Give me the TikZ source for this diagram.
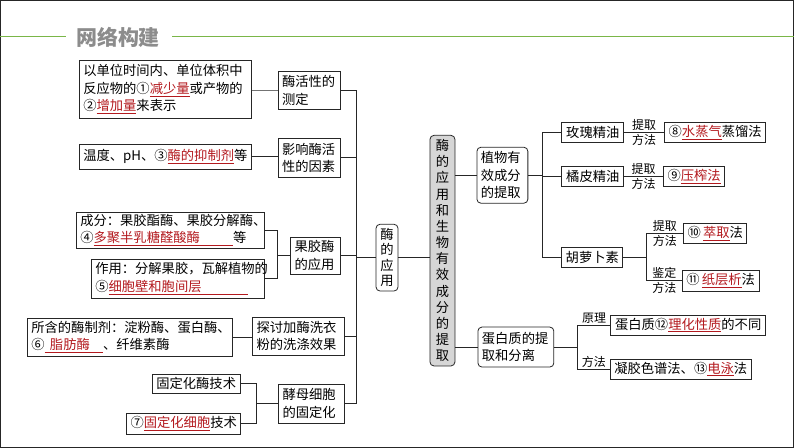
\documentclass[tikz,border=0pt]{standalone}
\usepackage{fontspec}
\setmainfont{Noto Sans CJK SC}
\usepackage{xcolor}
\usepackage{tikz}
\usetikzlibrary{positioning}
\definecolor{ansred}{HTML}{B3191E}
\definecolor{hdgreen}{HTML}{7AB648}
\definecolor{hdgray}{HTML}{8C8C8C}
\definecolor{mainfill}{HTML}{D6D6D6}
\newcommand{\ans}[1]{\textcolor{ansred}{\underline{#1}}}

\begin{document}
\begin{tikzpicture}[
  x=1pt, y=-1pt,
  font=\fontsize{13.3}{17.5}\selectfont,
  tbox/.style={draw, line width=0.8pt, inner xsep=4pt, inner ysep=2pt, align=left},
  rbox/.style={tbox, rounded corners=4pt},
  vbox/.style={rbox, align=center, inner xsep=3pt, inner ysep=4pt},
  lbl/.style={font=\fontsize{12}{14}\selectfont, inner sep=1.5pt},
  every path/.style={line width=0.8pt, draw=black!85}
]
\useasboundingbox (0,0) rectangle (794,447);
% header
\draw[hdgreen, line width=1.6pt] (0,36) -- (66,36);
\node[text=hdgray, font=\fontsize{21}{23}\selectfont\bfseries, anchor=west] (title) at (72,37) {网络构建};
\draw[hdgreen, line width=1pt] (172,36) -- (794,36);

% left side
\node[tbox, text width=164pt, minimum height=58pt] (meas) at (165,89)
  {以单位时间内、单位体积中\\反应物的①\ans{减少量}或产物的\\②\ans{增加量}来表示};
\node[tbox, text width=54pt, minimum height=38pt] (act) at (309,90) {酶活性的\\测定};
\node[tbox, text width=164pt, minimum height=25pt] (temp) at (165,156.5) {温度、pH、③\ans{酶的抑制剂}等};
\node[tbox, text width=54pt, minimum height=39pt] (infl) at (309,157.5) {影响酶活\\性的因素};
\node[tbox, text width=180pt, minimum height=36pt] (comp) at (170,230)
  {成分：果胶酯酶、果胶分解酶、\\④\ans{多聚半乳糖醛酸酶\hspace{2.5em}}等};
\node[tbox, text width=165pt, minimum height=39pt] (use) at (177.5,278.5)
  {作用：分解果胶，瓦解植物的\\⑤\ans{细胞壁和胞间层\hspace{3.5em}}};
\node[tbox, text width=42pt, minimum height=37pt] (pect) at (315.5,255.5) {果胶酶\\的应用};
\node[tbox, text width=197pt, minimum height=38pt] (agent) at (129.5,337)
  {所含的酶制剂：淀粉酶、蛋白酶、\\⑥\ans{\hspace{0.4em}脂肪酶\hspace{1em}}、纤维素酶};
\node[tbox, text width=84pt, minimum height=38pt] (wash) at (298.5,336) {探讨加酶洗衣\\粉的洗涤效果};
\node[tbox, minimum width=88pt, minimum height=19pt, inner ysep=1pt] (immenz) at (196,383.5) {固定化酶技术};
\node[tbox, minimum width=113pt, minimum height=21pt, inner ysep=1pt] (immcell) at (183.5,423.5) {⑦\ans{固定化细胞}技术};
\node[tbox, text width=58pt, minimum height=39pt] (yeast) at (311.5,403.5) {酵母细胞\\的固定化};

% centre
\node[vbox, minimum width=22pt, minimum height=63pt, font=\fontsize{13.3}{15.5}\selectfont] (app) at (387,257.5) {酶\\的\\应\\用};
\node[vbox, fill=mainfill, minimum width=25pt, minimum height=217pt, font=\fontsize{13.3}{16.2}\selectfont] (main) at (442.5,250.5)
  {酶\\的\\应\\用\\和\\生\\物\\有\\效\\成\\分\\的\\提\\取};
\node[rbox, text width=43pt, minimum height=56pt] (plant) at (502.5,175) {植物有\\效成分\\的提取};
\node[rbox, text width=68pt, minimum height=40pt] (prot) at (516,347) {蛋白质的提\\取和分离};

% right side
\node[tbox, minimum width=62pt, minimum height=20pt, inner ysep=1pt] (rose) at (593,132) {玫瑰精油};
\node[tbox, minimum width=62pt, minimum height=20pt, inner ysep=1pt] (orange) at (593,176) {橘皮精油};
\node[tbox, minimum width=61pt, minimum height=20pt, inner ysep=1pt] (carrot) at (592.5,257) {胡萝卜素};
\node[tbox, minimum width=101pt, minimum height=20pt, inner ysep=1pt] (steam) at (715.5,132) {⑧\ans{水蒸气}蒸馏法};
\node[tbox, minimum width=59pt, minimum height=20pt, inner ysep=1pt] (press) at (694.5,176) {⑨\ans{压榨法}};
\node[tbox, minimum width=63pt, minimum height=20pt, inner ysep=1pt] (extr) at (715.5,233) {⑩\,\ans{萃取}法};
\node[tbox, minimum width=74pt, minimum height=21pt, inner ysep=1pt] (paper) at (721,280.5) {⑪\,\ans{纸层析}法};
\node[tbox, minimum width=155pt, minimum height=20pt, inner ysep=1pt] (prin) at (688.5,325) {蛋白质⑫\ans{理化性质}的不同};
\node[tbox, minimum width=140pt, minimum height=20pt, inner ysep=1pt] (meth) at (681,369) {凝胶色谱法、⑬\ans{电泳}法};

% connectors
\coordinate (trunk) at (356,0);
\coordinate (pbr) at (277,0);
\coordinate (ybr) at (256,0);
\coordinate (plbr) at (543,0);
\coordinate (cbr) at (647,0);
\coordinate (prbr) at (578,0);

\draw[draw=black!55, line width=1.5pt] (meas.east |- act.west) -- (act.west);
\draw (temp.east) -- (temp.east -| infl.west);
\draw (act.east) -- (act.east -| trunk) -- (yeast.east -| trunk) -- (yeast.east);
\draw (infl.east) -- (infl.east -| trunk);
\draw (wash.east) -- (wash.east -| trunk);
\draw (pect.east) -- (pect.east -| trunk);
\draw (app.west) -- (app.west -| trunk);
\draw (comp.east) -- (comp.east -| pbr) -- (use.east -| pbr) -- (use.east);
\draw (pect.west) -- (pect.west -| pbr);
\draw (agent.east) -- (agent.east -| wash.west);
\draw (immenz.east) -- (immenz.east -| ybr) -- (immcell.east -| ybr) -- (immcell.east);
\draw (yeast.west) -- (yeast.west -| ybr);
\draw (app.east) -- (app.east -| main.west);
\draw (plant.west -| main.east) -- (plant.west);
\draw (prot.west -| main.east) -- (prot.west);
\draw (plant.east) -- (plant.east -| plbr);
\draw (rose.west) -- (rose.west -| plbr) -- (carrot.west -| plbr) -- (carrot.west);
\draw (orange.west) -- (orange.west -| plbr);
\draw (rose.east) -- node[lbl, above] {提取} node[lbl, below] {方法} (rose.east -| steam.west);
\draw (orange.east) -- node[lbl, above] {提取} node[lbl, below] {方法} (orange.east -| press.west);
\draw (carrot.east) -- (carrot.east -| cbr);
\draw (extr.west) -- node[lbl, above] {提取} node[lbl, below] {方法} (extr.west -| cbr) -- (paper.west -| cbr) -- node[lbl, above] {鉴定} node[lbl, below] {方法} (paper.west);
\draw (prot.east) -- (prot.east -| prbr);
\draw (prin.west) -- node[lbl, above] {原理} (prin.west -| prbr) -- (meth.west -| prbr) -- node[lbl, above] {方法} (meth.west);
\end{tikzpicture}
\end{document}
